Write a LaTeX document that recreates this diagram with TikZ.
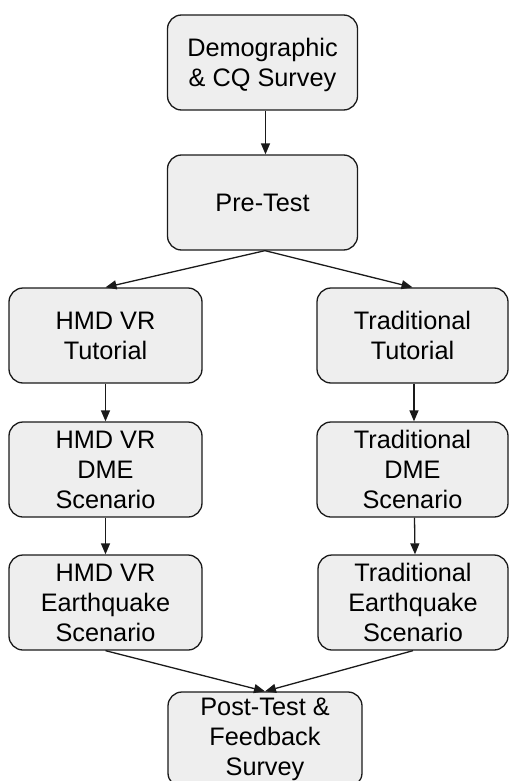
\documentclass[tikz,border=0pt]{standalone}
\usepackage{fontspec}
\setmainfont{Liberation Sans}
\usetikzlibrary{arrows.meta}
\definecolor{boxfill}{HTML}{EEEEEE}
\definecolor{boxline}{HTML}{1A1A1A}
\begin{document}
\begin{tikzpicture}[x=1pt,y=-1pt,
  box/.style={draw=boxline, fill=boxfill, line width=1.3pt, rounded corners=14pt,
    minimum height=95pt, align=center, inner sep=0pt,
    font=\fontsize{25.3}{30}\selectfont, text=black},
  conn/.style={draw=boxline, line width=1.3pt, -{Triangle[length=11pt,width=9pt]}}]
\useasboundingbox (0,0) rectangle (509,781);
\clip (0,0) rectangle (509,781);
\node[box, minimum width=190pt] (demo) at (262.5,62.5) {Demographic\\\smash{\& CQ Survey}};
\node[box, minimum width=190pt] (pre) at (262.5,202.5) {Pre-Test};
\node[box, minimum width=193pt] (hmdT) at (105.5,335.5) {HMD VR\\Tutorial};
\node[box, minimum width=191pt] (tradT) at (412.5,335.5) {Traditional\\Tutorial};
\node[box, minimum width=193pt] (hmdD) at (105.5,469.5) {HMD VR\\DME\\Scenario};
\node[box, minimum width=191pt] (tradD) at (412.5,469.5) {Traditional\\DME\\Scenario};
\node[box, minimum width=193pt] (hmdE) at (105.5,602.5) {HMD VR\\Earthquake\\Scenario};
\node[box, minimum width=190pt] (tradE) at (413,602.5) {Traditional\\Earthquake\\Scenario};
\node[box, minimum width=194pt] (post) at (265,739.5) {Post-Test \&\\Feedback\\Survey};
\draw[conn] ([xshift=3pt]demo.south) -- ([xshift=3pt]pre.north);
\draw[conn] ([xshift=2.5pt]pre.south) -- (hmdT.north);
\draw[conn] ([xshift=2.5pt]pre.south) -- (tradT.north);
\draw[conn] (hmdT.south) -- (hmdD.north);
\draw[conn] ([xshift=1.5pt]tradT.south) -- ([xshift=1.5pt]tradD.north);
\draw[conn] (hmdD.south) -- (hmdE.north);
\draw[conn] ([xshift=2pt]tradD.south) -- ([xshift=2pt]tradE.north);
\draw[conn] (hmdE.south) -- (post.north);
\draw[conn] (tradE.south) -- (post.north);
\end{tikzpicture}
\end{document}
